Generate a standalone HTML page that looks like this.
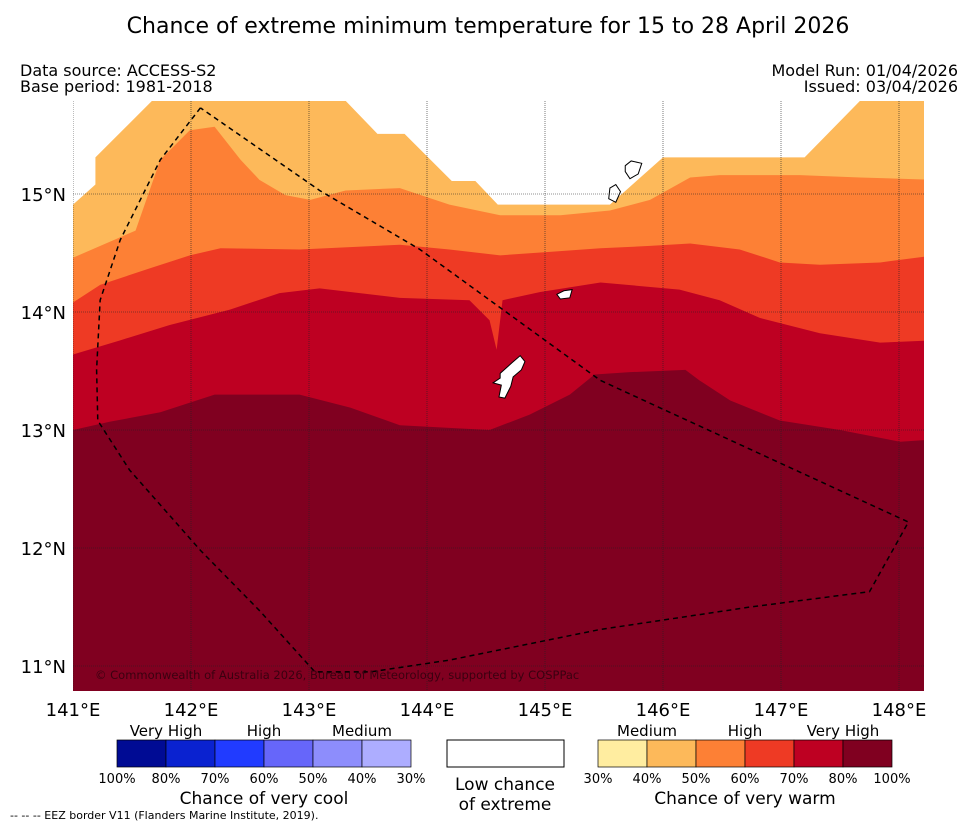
<!DOCTYPE html>
<html><head><meta charset="utf-8"><style>
body{margin:0;background:#fff;font-family:"DejaVu Sans","Liberation Sans",sans-serif;}
svg text{font-family:"DejaVu Sans","Liberation Sans",sans-serif;}
</style></head><body>
<svg id="c" width="977" height="827" xmlns="http://www.w3.org/2000/svg">
<text x="488" y="33" font-size="22" text-anchor="middle">Chance of extreme minimum temperature for 15 to 28 April 2026</text>
<text x="20" y="76" font-size="16">Data source: ACCESS-S2</text>
<text x="20" y="92" font-size="16">Base period: 1981-2018</text>
<text x="958" y="76" font-size="16" text-anchor="end">Model Run: 01/04/2026</text>
<text x="958" y="92" font-size="16" text-anchor="end">Issued: 03/04/2026</text>
<defs><clipPath id="mc"><rect x="73" y="101" width="851" height="590"/></clipPath></defs>
<g id="map" clip-path="url(#mc)"></g>
<g id="axes"></g>
<g id="legend"></g>
<text x="10" y="819" font-size="11">--  --  -- EEZ border V11 (Flanders Marine Institute, 2019).</text>
</svg>
<script>
const lonTicks=[141,142,143,144,145,146,147,148];
const latTicks=[11,12,13,14,15];
const bandColors=["#fdb95a","#fd8035","#ee3a24","#be0022","#800020"];
const b0=[[141,14.91],[141.19,15.08],[141.19,15.31],[141.67,15.79],[143.31,15.79],[143.58,15.51],[143.81,15.51],[144.21,15.11],[144.41,15.11],[144.6,14.91],[145.55,14.91],[146.0,15.31],[147.2,15.31],[147.67,15.79],[148.3,15.79]];
const b1=[[141,14.46],[141.53,14.69],[141.74,15.29],[141.99,15.54],[142.2,15.57],[142.42,15.29],[142.58,15.12],[142.8,14.99],[143.01,14.95],[143.31,15.03],[143.77,15.05],[144.19,14.91],[144.62,14.82],[145.13,14.82],[145.55,14.86],[145.89,14.95],[146.23,15.14],[146.48,15.16],[147.16,15.16],[147.67,15.14],[148.3,15.12]];
const b2=[[141,14.08],[141.23,14.23],[141.65,14.37],[141.99,14.48],[142.25,14.54],[142.92,14.53],[143.77,14.57],[144.19,14.53],[144.62,14.48],[145.04,14.51],[145.47,14.54],[145.89,14.56],[146.23,14.58],[146.65,14.53],[146.99,14.42],[147.33,14.40],[147.84,14.42],[148.3,14.48]];
const b3=[[141,13.64],[141.4,13.76],[141.82,13.89],[142.33,14.02],[142.75,14.16],[143.09,14.20],[143.77,14.12],[144.36,14.10],[144.53,13.93],[144.59,13.68],[144.64,14.10],[144.96,14.17],[145.47,14.25],[146.14,14.19],[146.48,14.10],[146.82,13.95],[147.33,13.82],[147.84,13.74],[148.3,13.76]];
const b4=[[141,13.0],[141.31,13.07],[141.74,13.15],[142.2,13.30],[142.92,13.30],[143.35,13.19],[143.77,13.04],[144.53,13.0],[144.87,13.13],[145.21,13.30],[145.42,13.47],[145.72,13.49],[146.19,13.51],[146.31,13.42],[146.57,13.25],[146.99,13.08],[147.5,13.0],[148.01,12.90],[148.3,12.92]];
const bands=[b0,b1,b2,b3,b4];
const eez=[[142.08,15.73],[141.74,15.29],[141.40,14.61],[141.23,14.10],[141.20,13.51],[141.21,13.08],[141.48,12.66],[142.08,11.98],[142.58,11.47],[143.05,10.95],[143.52,10.95],[144.19,11.05],[145.47,11.31],[146.74,11.50],[147.75,11.63],[148.08,12.22],[145.47,13.42],[143.94,14.53],[143.09,15.03],[142.08,15.73]];
const guam=[[144.62,13.48],[144.72,13.57],[144.79,13.63],[144.83,13.58],[144.80,13.51],[144.73,13.45],[144.71,13.37],[144.66,13.27],[144.61,13.28],[144.63,13.38],[144.56,13.40],[144.62,13.44]];
const rota=[[145.1,14.15],[145.16,14.18],[145.23,14.19],[145.21,14.12],[145.13,14.11]];
const saipan=[[145.68,15.24],[145.73,15.28],[145.82,15.26],[145.79,15.17],[145.72,15.13],[145.68,15.19]];
const tinian=[[145.55,15.05],[145.6,15.08],[145.64,15.02],[145.6,14.93],[145.54,14.96]];
const sx=lon=>73+(lon-141)*118, sy=lat=>194-(lat-15)*118;
const NS="http://www.w3.org/2000/svg";
function mk(t,a,p){const e=document.createElementNS(NS,t);for(const k in a)e.setAttribute(k,a[k]);p.appendChild(e);return e;}
const map=document.getElementById('map');
mk('rect',{x:73,y:101,width:851,height:590,fill:'#fff'},map);
bands.forEach((b,i)=>{
  const pts=b.map(p=>sx(p[0])+','+sy(p[1])).join(' ')+' '+sx(148.3)+','+sy(10.5)+' '+sx(140.9)+','+sy(10.5);
  const e=mk('polygon',{points:pts,fill:bandColors[i]},map);
  
  
});
[guam,rota,saipan,tinian].forEach((isl,i)=>{
  const e=mk('polygon',{points:isl.map(p=>sx(p[0])+','+sy(p[1])).join(' '),fill:'#fff',stroke:'#000','stroke-width':1},map);
  
  
});
lonTicks.forEach(l=>mk('line',{x1:sx(l),x2:sx(l),y1:101,y2:691,stroke:'#222','stroke-width':0.6,'stroke-dasharray':'1,1'},map));
latTicks.forEach(l=>mk('line',{x1:73,x2:924,y1:sy(l),y2:sy(l),stroke:'#222','stroke-width':0.6,'stroke-dasharray':'1,1'},map));
const ez=mk('polyline',{points:eez.map(p=>sx(p[0])+','+sy(p[1])).join(' '),fill:'none',stroke:'#000','stroke-width':1.5,'stroke-dasharray':'5,4'},map);


const cp=mk('text',{x:95,y:679,'font-size':11.5,fill:'#3a0010'},map);
cp.textContent='© Commonwealth of Australia 2026, Bureau of Meteorology, supported by COSPPac';


const ax=document.getElementById('axes');
lonTicks.forEach(l=>{const t=mk('text',{x:sx(l),y:716,'font-size':18,'text-anchor':'middle'},ax);t.textContent=l+'°E';

});
latTicks.forEach(l=>{const t=mk('text',{x:66,y:sy(l)+7,'font-size':18,'text-anchor':'end'},ax);t.textContent=l+'°N';

});
const lg=document.getElementById('legend');
const cool=["#000b94","#0a22d0","#213bff","#6666fa","#8d8dfc","#adadff"];
const warm=["#ffeda0","#fdb95a","#fd8035","#ee3a24","#be0022","#800020"];
const coolPct=["100%","80%","70%","60%","50%","40%","30%"];
const warmPct=["30%","40%","50%","60%","70%","80%","100%"];
function txt(x,y,s,c,sz){const t=mk('text',{x:x,y:y,'font-size':sz||15,'text-anchor':'middle'},lg);t.textContent=c;return t;}
cool.forEach((c,i)=>{const r=mk('rect',{x:117+i*49,y:740,width:49,height:27,fill:c,stroke:'#000','stroke-width':0.7},lg);

});
warm.forEach((c,i)=>{const r=mk('rect',{x:598+i*49,y:740,width:49,height:27,fill:c,stroke:'#000','stroke-width':0.7},lg);

});
const wb=mk('rect',{x:447,y:740,width:117,height:27,fill:'#fff',stroke:'#000','stroke-width':1},lg);


coolPct.forEach((p,i)=>txt(117+i*49,783,0,p,13));
warmPct.forEach((p,i)=>txt(598+i*49,783,0,p,13));
txt(166,736,0,'Very High');txt(264,736,0,'High');txt(362,736,0,'Medium');
txt(647,736,0,'Medium');txt(745,736,0,'High');txt(843,736,0,'Very High');
txt(264,804,0,'Chance of very cool',17);txt(745,804,0,'Chance of very warm',17);
txt(505,790,0,'Low chance',17);txt(505,810,0,'of extreme',17);
</script>
</body></html>
